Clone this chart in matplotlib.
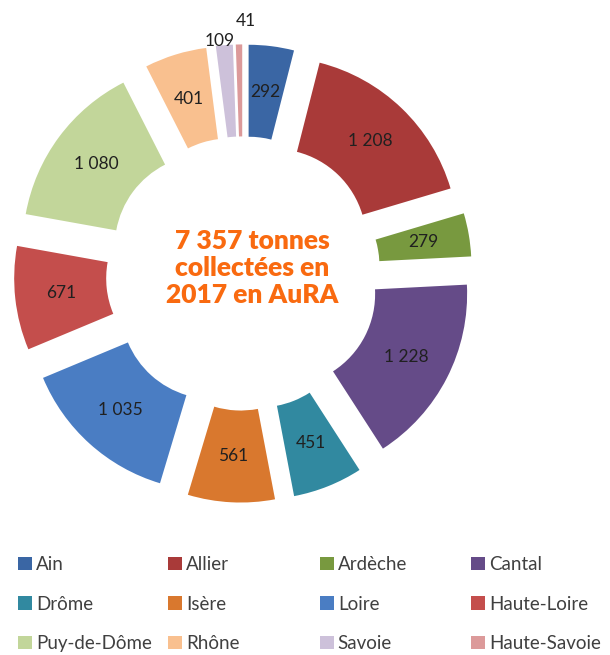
import matplotlib
matplotlib.use("Agg")
import matplotlib.pyplot as plt
from matplotlib.patches import Patch
import numpy as np

# tonnes collected per department, 2017
departements = ['Ain', 'Allier', 'Ardèche', 'Cantal', 'Drôme', 'Isère',
                'Loire', 'Haute-Loire', 'Puy-de-Dôme', 'Rhône', 'Savoie',
                'Haute-Savoie']
tonnes = [292, 1208, 279, 1228, 451, 561, 1035, 671, 1080, 401, 109, 41]
couleurs = ['#3A66A4', '#A93A39', '#78993F', '#654B88', '#3189A0', '#D9782E',
            '#4A7DC3', '#C44E4C', '#C2D69A', '#F9C08F', '#CDC1DA', '#DC9A9A']
titre = '7 357 tonnes\ncollectées en\n2017 en AuRA'

W, H = 610, 655
cx, cy = 243, 273.5   # pie centre in pixels (from top)
ppu = 184.0           # pixels per data unit

fig = plt.figure(figsize=(W / 100, H / 100), dpi=100)
ax = fig.add_axes([0, 0, 1, 1])

wedges, _ = ax.pie(tonnes, colors=couleurs, startangle=90, counterclock=False,
                   explode=[0.245] * len(tonnes), radius=1.0,
                   wedgeprops=dict(width=0.5, edgecolor='none'))

ax.set_xlim(-cx / ppu, (W - cx) / ppu)
ax.set_ylim(-(H - cy) / ppu, cy / ppu)
ax.axis('off')


def mid_angle(w):
    return np.deg2rad((w.theta1 + w.theta2) / 2)


# value labels inside the ring
for w, v in zip(wedges, tonnes):
    if v < 200:
        continue
    a = mid_angle(w)
    x = w.center[0] + 0.75 * np.cos(a)
    y = w.center[1] + 0.75 * np.sin(a)
    ax.text(x, y, f"{v:,}".replace(",", " "), ha='center', va='center',
            fontsize=12.5, family='Lato', color='#202020')

# small slices labelled outside
for i, r, dx in [(10, 1.27, -4), (11, 1.37, 7)]:
    a = mid_angle(wedges[i])
    ax.annotate(str(tonnes[i]), xy=(r * np.cos(a), r * np.sin(a)),
                xytext=(dx, 0), textcoords='offset pixels', ha='center',
                va='center', fontsize=12.5, family='Lato', color='#202020')

ax.text((252 - cx) / ppu, (cy - 268) / ppu, titre, ha='center', va='center',
        fontsize=19, fontweight='heavy', family='Lato', color='#F96A10',
        linespacing=1.15)

# legend: 4 columns of 3
col_x = [18, 168, 320, 471]
for c in range(4):
    idx = [c, c + 4, c + 8]
    handles = [Patch(facecolor=couleurs[i], edgecolor='none') for i in idx]
    leg = fig.legend(handles, [departements[i] for i in idx], loc='upper left',
                     bbox_to_anchor=(col_x[c] / W, (H - 556) / H),
                     frameon=False, borderpad=0, borderaxespad=0,
                     handlelength=0.75, handleheight=0.75, handletextpad=0.2,
                     labelspacing=1.2, prop={'family': 'Lato', 'size': 13.5})
    for t in leg.get_texts():
        t.set_color('#404040')

fig.savefig('out.png', dpi=100)
